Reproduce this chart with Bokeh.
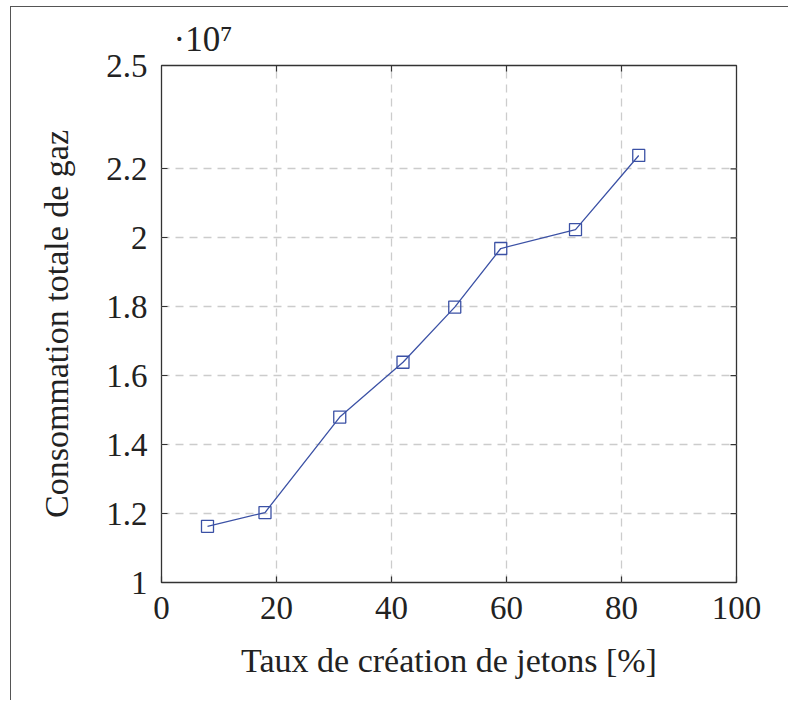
from bokeh.plotting import figure
from bokeh.models import FixedTicker, Range1d, Title
from bokeh.embed import file_html
from bokeh.resources import INLINE

# Token creation rate (%) vs. total gas consumption
rate_pct = [8, 18, 31, 42, 51, 59, 72, 83]
gas_total = [11630000, 12030000, 14800000, 16390000, 17990000, 19690000, 20240000, 22390000]

x_ticks = [0, 20, 40, 60, 80, 100]
y_ticks = [10000000, 12000000, 14000000, 16000000, 18000000, 20000000, 22000000, 25000000]
y_tick_labels = ["1", "1.2", "1.4", "1.6", "1.8", "2", "2.2", "2.5"]
y_scale_note = "·10⁷"
x_title = "Taux de création de jetons [%]"
y_title = "Consommation totale de gaz"

FONT = "Liberation Serif, serif"
INK = "#222222"
FRAME = "#333333"
GRID = "#cccccc"
BLUE = "#3b51a5"

X0, X1 = 0, 100
Y0, Y1 = 10000000, 25000000
FRAME_W, FRAME_H = 575, 517

p = figure(
    width=778, height=694,
    x_range=Range1d(X0, X1), y_range=Range1d(Y0, Y1),
    output_backend="svg", toolbar_location=None,
    min_border_left=150, min_border_right=53,
    min_border_top=58, min_border_bottom=119,
    margin=(6, 0, 0, 10),
)
p.styles = {"border-top": "1.5px solid #555555", "border-left": "1.5px solid #555555"}

# scale factor shown above the y axis
p.title = Title(text=y_scale_note, align="left", offset=12, standoff=13,
                text_font=FONT, text_font_size="35px", text_font_style="normal",
                text_color=INK)

p.outline_line_color = FRAME
p.outline_line_width = 1.3

# grid
for g in (p.xgrid, p.ygrid):
    g.grid_line_color = GRID
    g.grid_line_width = 1.3
    g.grid_line_dash = "8 6"

# axes
p.xaxis.ticker = FixedTicker(ticks=x_ticks)
p.yaxis.ticker = FixedTicker(ticks=y_ticks)
p.yaxis.major_label_overrides = dict(zip(y_ticks, y_tick_labels))

for ax in (p.xaxis[0], p.yaxis[0]):
    ax.axis_line_color = None
    ax.major_tick_in = 6
    ax.major_tick_out = 0
    ax.major_tick_line_color = FRAME
    ax.major_tick_line_width = 1.2
    ax.minor_tick_line_color = None
    ax.major_label_text_font = FONT
    ax.major_label_text_font_size = "33px"
    ax.major_label_text_color = INK
    ax.axis_label_text_font = FONT
    ax.axis_label_text_font_size = "34px"
    ax.axis_label_text_font_style = "normal"
    ax.axis_label_text_color = INK

p.xaxis.axis_label = x_title
p.yaxis.axis_label = y_title
p.xaxis.major_label_standoff = 14
p.yaxis.major_label_standoff = 14
p.xaxis.axis_label_standoff = 20
p.yaxis.axis_label_standoff = 28

# inward ticks mirrored on the top and right edges (6 px long)
tick_dy = 6 * (Y1 - Y0) / FRAME_H
tick_dx = 6 * (X1 - X0) / FRAME_W
inner_x = [t for t in x_ticks if X0 < t < X1]
inner_y = [t for t in y_ticks if Y0 < t < Y1]
p.segment(x0=inner_x, y0=[Y1] * len(inner_x), x1=inner_x, y1=[Y1 - tick_dy] * len(inner_x),
          line_color=FRAME, line_width=1.2)
p.segment(x0=[X1] * len(inner_y), y0=inner_y, x1=[X1 - tick_dx] * len(inner_y), y1=inner_y,
          line_color=FRAME, line_width=1.2)

# data
p.line(rate_pct, gas_total, line_color=BLUE, line_width=1.3)
p.scatter(rate_pct, gas_total, marker="square", size=12,
          fill_color=None, line_color=BLUE, line_width=1.3)

open("out.html", "w").write(file_html(p, INLINE))
